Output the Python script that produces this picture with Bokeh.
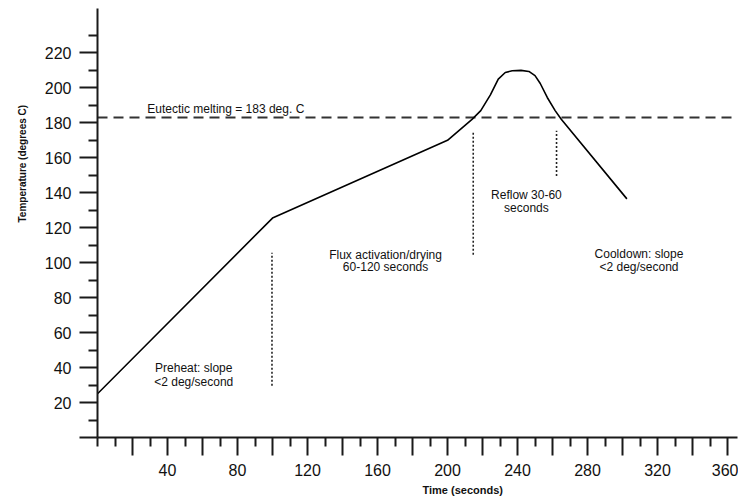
from bokeh.plotting import figure
from bokeh.models import Range1d, FixedTicker, ColumnDataSource, Title
from bokeh.core.properties import value
from bokeh.embed import file_html
from bokeh.resources import INLINE

# ---- data ----
time_s = [0, 100, 200, 214, 219, 224.5, 229, 233, 237, 242, 246.5, 250, 253, 257, 261.5, 265, 302.5]
temp_c = [25, 125.5, 170, 182, 187, 196, 205, 208.8, 209.8, 210, 209.4, 207, 202.5, 194.5, 187, 182, 136.5]

eutectic_temp = 183

marker_x = [99.7, 214.7, 262.3]
marker_y0 = [29.6, 104.5, 149.6]
marker_y1 = [105.7, 175.4, 175.4]

note_center_text = ["Preheat: slope", "<2 deg/second",
                    "Flux activation/drying", "60-120 seconds",
                    "Reflow 30-60", "seconds",
                    "Cooldown: slope", "<2 deg/second"]
note_center_x = [55, 55, 164.6, 164.6, 245.1, 245.1, 309.4, 309.4]
note_center_y = [39.7, 32.0, 104.4, 97.3, 138.6, 131.1, 104.9, 97.7]

eutectic_text = "Eutectic melting = 183 deg. C"
eutectic_text_x = 28.4
eutectic_text_y = 187.9

x_major = list(range(20, 361, 20))
x_minor = [0] + list(range(10, 361, 20))
x_labels = {t: (str(t) if t % 40 == 0 else "") for t in x_major}
y_major = list(range(0, 221, 20))
y_minor = list(range(10, 231, 20))
y_labels = {t: (str(t) if t > 0 else "") for t in y_major}

FONT = "Liberation Sans"
INK = "#111111"

p = figure(frame_width=640, frame_height=429,
           min_border_left=97, min_border_right=1, min_border_top=8, min_border_bottom=62,
           x_range=Range1d(0, 365.7), y_range=Range1d(0, 245.4),
           output_backend="svg", toolbar_location=None)
p.outline_line_color = None
p.xgrid.visible = False
p.ygrid.visible = False
p.background_fill_color = "white"
p.border_fill_color = "white"

for ax in (p.xaxis[0], p.yaxis[0]):
    ax.axis_line_width = 2
    ax.axis_line_color = "#1a1a1a"
    ax.major_tick_line_width = 2
    ax.major_tick_line_color = "#1a1a1a"
    ax.minor_tick_line_width = 2
    ax.minor_tick_line_color = "#1a1a1a"
    ax.major_tick_in = 0
    ax.major_tick_out = 18
    ax.minor_tick_in = 0
    ax.minor_tick_out = 9
    ax.major_label_text_font = FONT
    ax.major_label_text_font_size = "16px"
    ax.major_label_text_color = INK
    ax.major_label_standoff = 8

p.xaxis[0].ticker = FixedTicker(ticks=x_major, minor_ticks=x_minor)
p.xaxis[0].major_label_overrides = x_labels
p.yaxis[0].ticker = FixedTicker(ticks=y_major, minor_ticks=y_minor)
p.yaxis[0].major_label_overrides = y_labels

# eutectic dashed line
p.line(x=[0, 365.7], y=[eutectic_temp, eutectic_temp], line_color="#333333",
       line_width=2, line_dash="10 6")

# profile
p.line(x=time_s, y=temp_c, line_color="black", line_width=1.6)

# dotted phase markers
p.segment(x0=marker_x, y0=marker_y0, x1=marker_x, y1=marker_y1,
          line_color="#222222", line_width=1.6, line_dash="2 2")

src = ColumnDataSource(dict(x=note_center_x, y=note_center_y, t=note_center_text))
p.text(x="x", y="y", text="t", source=src, text_align="center", text_baseline="alphabetic",
       text_font=value(FONT), text_font_size="12px", text_color=INK)
p.text(x=[eutectic_text_x], y=[eutectic_text_y], text=[eutectic_text], text_align="left",
       text_baseline="alphabetic", text_font=value(FONT), text_font_size="12px", text_color=INK)

p.add_layout(Title(text="Time (seconds)", align="left", offset=325, standoff=6,
                   text_font=FONT, text_font_size="11px", text_font_style="bold",
                   text_color=INK), "below")
p.add_layout(Title(text="Temperature (degrees C)", align="left", offset=215, standoff=28,
                   text_font=FONT, text_font_size="10px", text_font_style="bold",
                   text_color=INK), "left")

open("out.html", "w").write(file_html(p, INLINE))
